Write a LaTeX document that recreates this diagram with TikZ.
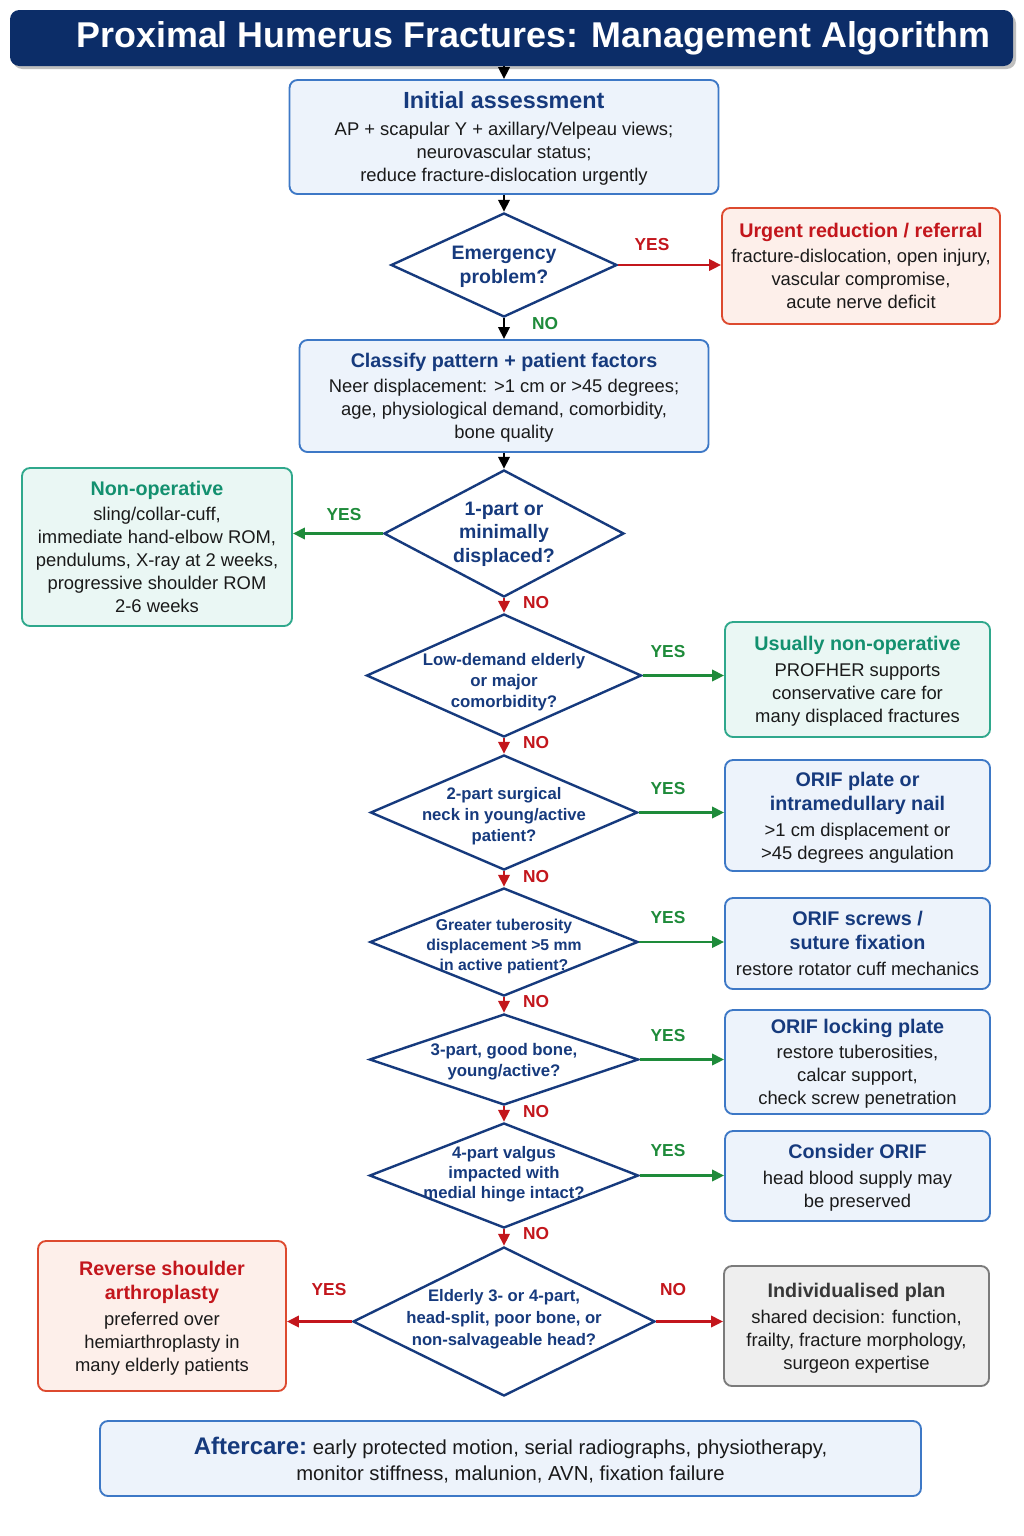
\documentclass[tikz,border=0pt]{standalone}
\usepackage{fontspec}
\setmainfont{Liberation Sans}
\usetikzlibrary{shapes.geometric,arrows.meta}
\definecolor{cNavy}{HTML}{163A7D}
\definecolor{cTitle}{HTML}{0C2D68}
\definecolor{cBlueB}{HTML}{3D78C6}
\definecolor{cBlueF}{HTML}{EDF3FB}
\definecolor{cRed}{HTML}{C3161C}
\definecolor{cRedB}{HTML}{DD4A2F}
\definecolor{cRedF}{HTML}{FDEFEA}
\definecolor{cGreen}{HTML}{1E8B3A}
\definecolor{cTeal}{HTML}{13906F}
\definecolor{cTealB}{HTML}{2FA88C}
\definecolor{cTealF}{HTML}{EAF7F4}
\definecolor{cGreyB}{HTML}{7B7B7B}
\definecolor{cGreyF}{HTML}{EEEEEE}
\definecolor{cGreyT}{HTML}{383838}
\definecolor{cBody}{HTML}{1A1A1A}
\newcommand{\hdr}[2]{{\color{#1}\fontsize{14.8}{18}\selectfont\bfseries #2}}
\tikzset{
  box/.style={rectangle, rounded corners=6pt, line width=1.4pt, align=center, inner sep=2pt,
    text=cBody, font=\fontsize{13.8}{17.25}\selectfont, text depth=0pt},
  bluebox/.style={box, draw=cBlueB, fill=cBlueF},
  redbox/.style={box, draw=cRedB, fill=cRedF},
  tealbox/.style={box, draw=cTealB, fill=cTealF},
  greybox/.style={box, draw=cGreyB, fill=cGreyF},
  dia/.style={diamond, draw=cNavy, line width=1.8pt, fill=white, inner sep=0pt},
  dtxt/.style={align=center, text=cNavy, inner sep=0pt},
  arr/.style={line width=1.8pt, -{Triangle[length=9pt,width=8.5pt]}},
  lab/.style={font=\bfseries\fontsize{13}{15}\selectfont, inner sep=0pt},
}
\begin{document}
\begin{tikzpicture}[x=0.75pt,y=-0.75pt]
\path[use as bounding box, fill=white] (0,0) rectangle (1024,1536);

% title
\fill[black!25, rounded corners=7pt] (13,14) rectangle (1016,69);
\node[rectangle, rounded corners=7pt, fill=cTitle, minimum width=752.25pt, minimum height=42pt,
  text=white, font=\bfseries\fontsize{26.9}{30}\selectfont] (title) at (511.5,38)
  {\hspace*{33pt}Proximal Humerus Fractures: Management Algorithm};

% initial assessment
\node[bluebox, minimum width=321.75pt, minimum height=85.5pt] (init) at (504,137)
  {{\color{cNavy}\fontsize{17.5}{20}\selectfont\bfseries Initial assessment}\\[3pt]
   AP + scapular Y + axillary/Velpeau views;\\ neurovascular status;\\ reduce fracture-dislocation urgently};

% diamond 1
\node[dia, minimum width=169.5pt, minimum height=78pt] (d1) at (504,265) {};
\node[dtxt, font=\bfseries\fontsize{14.6}{18}\selectfont] (d1t) at (504,267) {Emergency\\problem?};

\node[redbox, minimum width=208.5pt, minimum height=87pt] (urgent) at (861,266)
  {\hdr{cRed}{Urgent reduction / referral}\\[2pt]
   fracture-dislocation, open injury,\\ vascular compromise,\\ acute nerve deficit};

% classify
\node[bluebox, minimum width=306.75pt, minimum height=84pt] (classify) at (504,396)
  {\hdr{cNavy}{Classify pattern + patient factors}\\[2pt]
   Neer displacement: >1 cm or >45 degrees;\\ age, physiological demand, comorbidity,\\ bone quality};

% diamond 2
\node[dia, minimum width=180pt, minimum height=95.25pt] (d2) at (504,533.5) {};
\node[dtxt, font=\bfseries\fontsize{14.6}{17.6}\selectfont] (d2t) at (504,534) {1-part or\\minimally\\displaced?};

\node[tealbox, minimum width=202.5pt, minimum height=118.5pt] (nonop) at (157,547)
  {\hdr{cTeal}{Non-operative}\\[2pt]
   sling/collar-cuff,\\ immediate hand-elbow ROM,\\ pendulums, X-ray at 2 weeks,\\ progressive shoulder ROM\\ 2-6 weeks};

% diamond 3
\node[dia, minimum width=206.25pt, minimum height=92.25pt] (d3) at (504,675.5) {};
\node[dtxt, font=\bfseries\fontsize{12.6}{16}\selectfont] (d3t) at (504,682) {Low-demand elderly\\or major\\comorbidity?};

\node[tealbox, minimum width=198.75pt, minimum height=86.25pt] (usual) at (857.5,679.5)
  {\hdr{cTeal}{Usually non-operative}\\[2pt]
   PROFHER supports\\ conservative care for\\ many displaced fractures};

% diamond 4
\node[dia, minimum width=200.25pt, minimum height=86.25pt] (d4) at (504,812.5) {};
\node[dtxt, font=\bfseries\fontsize{12.5}{15.75}\selectfont] (d4t) at (504,816) {2-part surgical\\neck in young/active\\patient?};

\node[bluebox, minimum width=198.75pt, minimum height=83.25pt] (plate) at (857.5,815.5)
  {\hdr{cNavy}{ORIF plate or}\\[1pt]\hdr{cNavy}{intramedullary nail}\\[2pt]
   >1 cm displacement or\\ >45 degrees angulation};

% diamond 5
\node[dia, minimum width=201pt, minimum height=81pt] (d5) at (504,942) {};
\node[dtxt, font=\bfseries\fontsize{11.8}{15}\selectfont] (d5t) at (504,946) {Greater tuberosity\\displacement >5 mm\\in active patient?};

\node[bluebox, minimum width=198.75pt, minimum height=68.25pt] (screws) at (857.5,943.5)
  {\hdr{cNavy}{ORIF screws /}\\[1pt]\hdr{cNavy}{suture fixation}\\[2pt]
   restore rotator cuff mechanics};

% diamond 6
\node[dia, minimum width=201.75pt, minimum height=68.25pt] (d6) at (504,1059.5) {};
\node[dtxt, font=\bfseries\fontsize{12.6}{15.75}\selectfont] (d6t) at (504,1061.5) {3-part, good bone,\\young/active?};

\node[bluebox, minimum width=198.75pt, minimum height=78pt] (locking) at (857.5,1062)
  {\hdr{cNavy}{ORIF locking plate}\\[2pt]
   restore tuberosities,\\ calcar support,\\ check screw penetration};

% diamond 7
\node[dia, minimum width=201.75pt, minimum height=78.75pt] (d7) at (504,1175.5) {};
\node[dtxt, font=\bfseries\fontsize{12.5}{15}\selectfont] (d7t) at (504,1174) {4-part valgus\\impacted with\\medial hinge intact?};

\node[bluebox, minimum width=198.75pt, minimum height=67.5pt] (consider) at (857.5,1176)
  {\hdr{cNavy}{Consider ORIF}\\[2pt]
   head blood supply may\\ be preserved};

% diamond 8
\node[dia, minimum width=226.5pt, minimum height=111.75pt] (d8) at (504,1321.5) {};
\node[dtxt, font=\bfseries\fontsize{12.5}{16.5}\selectfont] (d8t) at (504,1319) {Elderly 3- or 4-part,\\head-split, poor bone, or\\non-salvageable head?};

\node[redbox, minimum width=186pt, minimum height=112.5pt] (reverse) at (162,1316)
  {\hdr{cRed}{Reverse shoulder}\\[1pt]\hdr{cRed}{arthroplasty}\\[2pt]
   preferred over\\ hemiarthroplasty in\\ many elderly patients};

\node[greybox, minimum width=198.75pt, minimum height=90pt] (indiv) at (856.5,1326)
  {\hdr{cGreyT}{Individualised plan}\\[2pt]
   shared decision: function,\\ frailty, fracture morphology,\\ surgeon expertise};

% aftercare
\node[bluebox, minimum width=615.75pt, minimum height=56.25pt, font=\fontsize{15.2}{19.5}\selectfont] (after) at (510.5,1458.5)
  {{\color{cNavy}\fontsize{18}{20}\selectfont\bfseries Aftercare:}\ early protected motion, serial radiographs, physiotherapy,\\
   monitor stiffness, malunion, AVN, fixation failure};

% connectors
\draw[arr, black] (init.north |- title.south) -- (init.north);
\draw[arr, black] (init.south) -- (d1.north);
\draw[arr, cRed] (d1.east) -- (d1.east -| urgent.west);
\draw[arr, black] (d1.south) -- (classify.north);
\draw[arr, black] (classify.south) -- (d2.north);
\draw[arr, cGreen] (d2.west) -- (d2.west -| nonop.east);
\draw[arr, cRed] (d2.south) -- (d3.north);
\draw[arr, cGreen] (d3.east) -- (d3.east -| usual.west);
\draw[arr, cRed] (d3.south) -- (d4.north);
\draw[arr, cGreen] (d4.east) -- (d4.east -| plate.west);
\draw[arr, cRed] (d4.south) -- (d5.north);
\draw[arr, cGreen] (d5.east) -- (d5.east -| screws.west);
\draw[arr, cRed] (d5.south) -- (d6.north);
\draw[arr, cGreen] (d6.east) -- (d6.east -| locking.west);
\draw[arr, cRed] (d6.south) -- (d7.north);
\draw[arr, cGreen] (d7.east) -- (d7.east -| consider.west);
\draw[arr, cRed] (d7.south) -- (d8.north);
\draw[arr, cRed] (d8.west) -- (d8.west -| reverse.east);
\draw[arr, cRed] (d8.east) -- (d8.east -| indiv.west);

% labels
\node[lab, text=cRed] (l1y) at (652,245) {YES};
\node[lab, text=cGreen] (l1n) at (545,324) {NO};
\node[lab, text=cGreen] (l2y) at (344,515) {YES};
\node[lab, text=cRed] (l2n) at (536,603) {NO};
\node[lab, text=cGreen] (l3y) at (668,652) {YES};
\node[lab, text=cRed] (l3n) at (536,743) {NO};
\node[lab, text=cGreen] (l4y) at (668,789) {YES};
\node[lab, text=cRed] (l4n) at (536,877) {NO};
\node[lab, text=cGreen] (l5y) at (668,918) {YES};
\node[lab, text=cRed] (l5n) at (536,1002) {NO};
\node[lab, text=cGreen] (l6y) at (668,1036) {YES};
\node[lab, text=cRed] (l6n) at (536,1112) {NO};
\node[lab, text=cGreen] (l7y) at (668,1151) {YES};
\node[lab, text=cRed] (l7n) at (536,1234) {NO};
\node[lab, text=cRed] (l8y) at (329,1290) {YES};
\node[lab, text=cRed] (l8n) at (673,1290) {NO};
\end{tikzpicture}
\end{document}
